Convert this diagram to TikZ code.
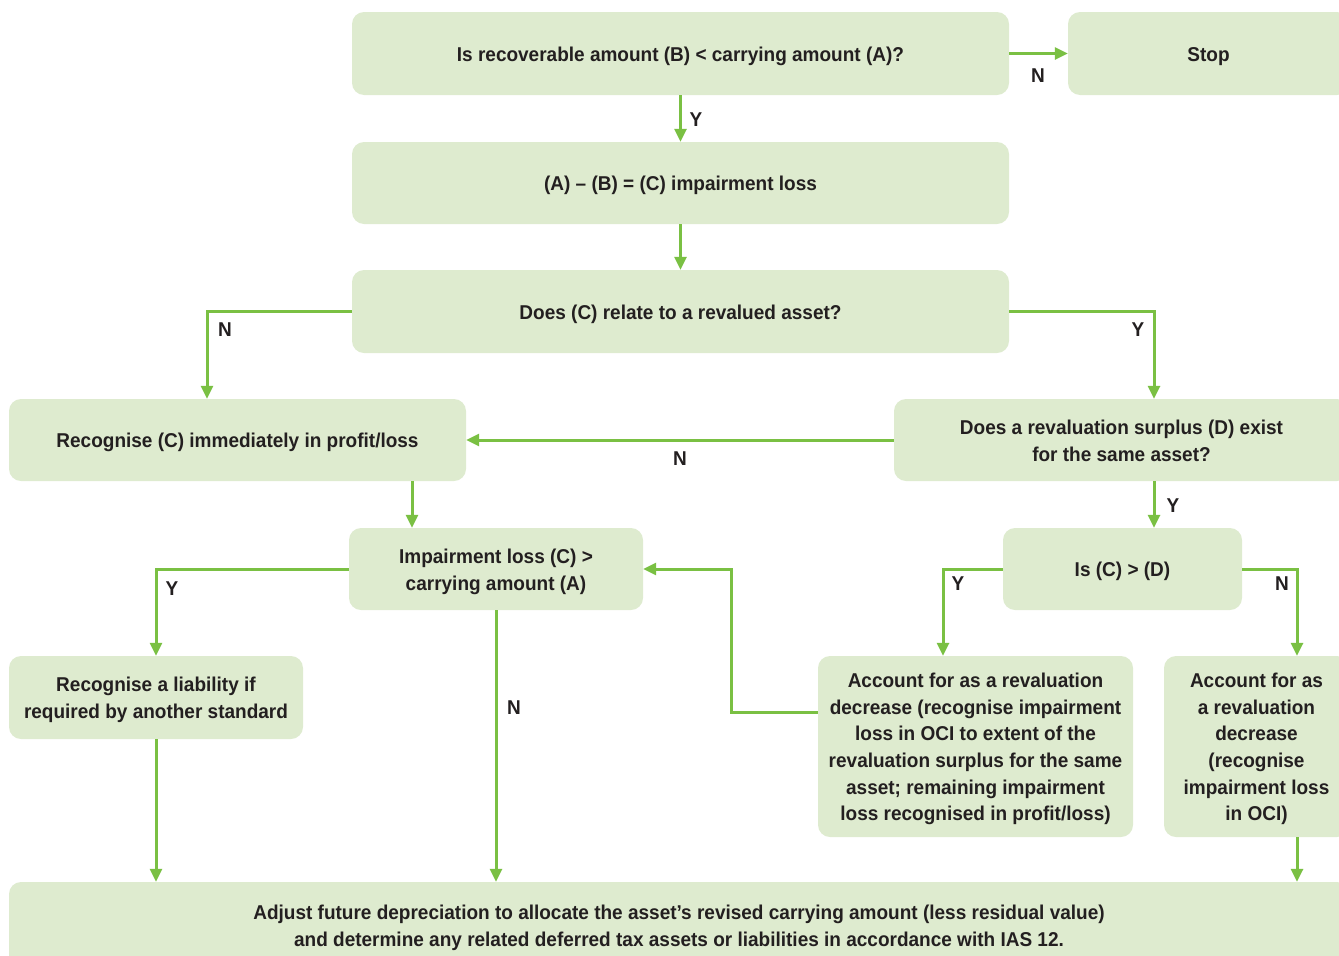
\documentclass[tikz,border=0pt]{standalone}
\usepackage{fontspec}
\setmainfont{Liberation Sans}[FakeStretch=0.95]
\usetikzlibrary{arrows.meta}
\definecolor{boxfill}{RGB}{222,235,207}
\definecolor{arrowgreen}{RGB}{122,192,67}
\definecolor{txt}{RGB}{35,31,32}
\newcommand\firststrut{\rule{0pt}{20.5pt}}
\newcommand\laststrut{\rule[-5pt]{0pt}{5pt}}
\begin{document}
\begin{tikzpicture}[x=1pt,y=-1pt,
  box/.style={rounded corners=12pt, fill=boxfill, inner sep=0pt, align=center,
    font=\fontsize{20}{26.6}\selectfont\bfseries, text=txt,
    execute at begin node={\firststrut},
    execute at end node={\laststrut}},
  arr/.style={draw=arrowgreen, line width=3pt, -{Triangle[length=13pt,width=12pt]}},
  lab/.style={font=\fontsize{20}{24}\selectfont\bfseries, text=txt, inner sep=0pt}]
\clip (0,0) rectangle (1339,956);
% boxes
\node[box, minimum width=657pt, minimum height=83pt] (q1) at (680.5,53.5) {Is recoverable amount (B) < carrying amount (A)?};
\node[box, minimum width=281pt, minimum height=83pt] (stop) at (1208.5,53.5) {Stop};
\node[box, minimum width=657pt, minimum height=82pt] (cbox) at (680.5,183) {(A) – (B) = (C) impairment loss};
\node[box, minimum width=657pt, minimum height=83pt] (q2) at (680.5,311.5) {Does (C) relate to a revalued asset?};
\node[box, minimum width=457pt, minimum height=82pt] (rec) at (237.5,440) {Recognise (C) immediately in profit/loss};
\node[box, minimum width=455pt, minimum height=82pt] (q3) at (1121.5,440) {\firststrut Does a revaluation surplus (D) exist\\for the same asset?\laststrut};
\node[box, minimum width=294pt, minimum height=82pt] (q4) at (496,569) {\firststrut Impairment loss (C) >\\carrying amount (A)\laststrut};
\node[box, minimum width=239pt, minimum height=82pt] (iscd) at (1122.5,569) {Is (C) > (D)};
\node[box, minimum width=294pt, minimum height=83pt] (liab) at (156,697.5) {\firststrut Recognise a liability if\\required by another standard\laststrut};
\node[box, minimum width=315pt, minimum height=181pt] (rd1) at (975.5,746.5) {\firststrut Account for as a revaluation\\decrease (recognise impairment\\loss in OCI to extent of the\\revaluation surplus for the same\\asset; remaining impairment\\loss recognised in profit/loss)\laststrut};
\node[box, minimum width=185pt, minimum height=181pt] (rd2) at (1256.5,746.5) {\firststrut Account for as\\a revaluation\\decrease\\(recognise\\impairment loss\\in OCI)\laststrut};
\node[box, minimum width=1340pt, minimum height=86pt] (bot) at (679,925) {\firststrut Adjust future depreciation to allocate the asset’s revised carrying amount (less residual value)\\and determine any related deferred tax assets or liabilities in accordance with IAS 12.\laststrut};
% connectors
\draw[arr] (q1.east) -- (stop.west);
\draw[arr] (q1.south) -- (cbox.north);
\draw[arr] (cbox.south) -- (q2.north);
\draw[arr] (q2.west) -| ([xshift=-30.5pt]rec.north);
\draw[arr] (q2.east) -| ([xshift=32.5pt]q3.north);
\draw[arr] (q3.west) -- (rec.east);
\draw[arr] ([xshift=174.5pt]rec.south) -- ([xshift=-84pt]q4.north);
\draw[arr] ([xshift=32.5pt]q3.south) -- ([xshift=31.5pt]iscd.north);
\draw[arr] (q4.west) -| (liab.north);
\draw[arr] (q4.south) -- (q4.south |- bot.north);
\draw[arr] (iscd.west) -| ([xshift=-32.5pt]rd1.north);
\draw[arr] (iscd.east) -| ([xshift=40.5pt]rd2.north);
\coordinate (k) at (731,712);
\draw[arr] ([yshift=34.5pt]rd1.west) -- (k) |- (q4.east);
\draw[arr] (liab.south) -- (liab.south |- bot.north);
\draw[arr] ([xshift=40.5pt]rd2.south) -- ([xshift=40.5pt]rd2.south |- bot.north);
% labels
\node[lab] (l1) at (1038,76) {N};
\node[lab] (l2) at (696,120) {Y};
\node[lab] (l3) at (225,330) {N};
\node[lab] (l4) at (1138,330) {Y};
\node[lab] (l5) at (680,459) {N};
\node[lab] (l6) at (1173,506) {Y};
\node[lab] (l7) at (172,589) {Y};
\node[lab] (l8) at (514,708) {N};
\node[lab] (l9) at (958,584) {Y};
\node[lab] (l10) at (1282,584) {N};
\end{tikzpicture}
\end{document}
